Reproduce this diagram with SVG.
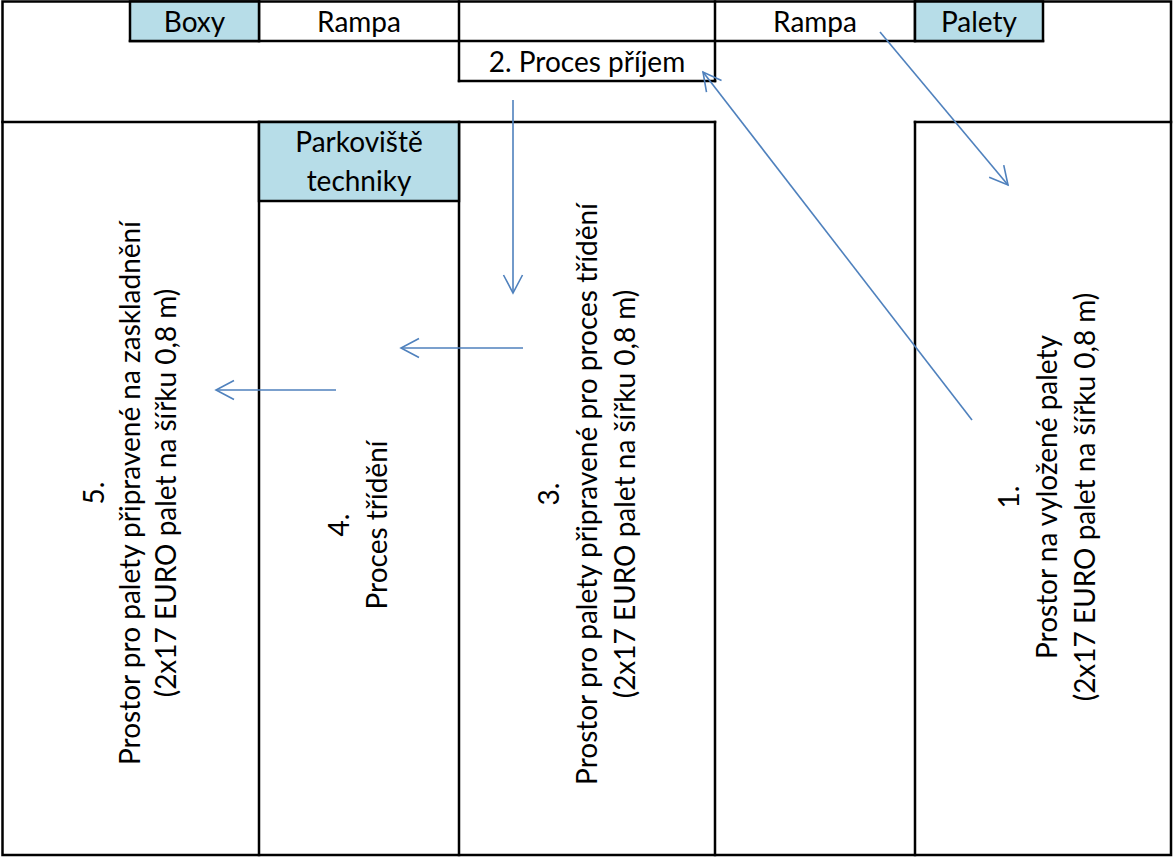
<svg xmlns="http://www.w3.org/2000/svg" width="1173" height="858" viewBox="0 0 1173 858">
<defs>
<style>
.ln{stroke:#000;stroke-width:2.5;fill:none;stroke-linecap:square}
.cell{fill:#b7dde8;stroke:#000;stroke-width:2.5}
.t{font-family:Lato,"Liberation Sans",sans-serif;font-size:28px;fill:#000;text-anchor:middle}
.ar{stroke:#4f81bd;stroke-width:1.6;fill:none;marker-end:url(#ah)}
</style>
<marker id="ah" markerUnits="userSpaceOnUse" viewBox="-20 -11 22 22" markerWidth="22" markerHeight="22" refX="0" refY="0" orient="auto" overflow="visible">
<path d="M-18,-9.5 L0,0 L-18,9.5" fill="none" stroke="#4f81bd" stroke-width="1.6"/>
</marker>
</defs>
<rect x="0" y="0" width="1173" height="858" fill="#fff"/>
<g id="frame">
<rect class="ln" x="2.5" y="1.5" width="1168.5" height="853.5"/>
<line class="ln" x1="130" y1="41" x2="1043" y2="41"/>
<line class="ln" x1="459" y1="81" x2="715" y2="81"/>
<line class="ln" x1="2.5" y1="122" x2="715" y2="122"/>
<line class="ln" x1="915" y1="122" x2="1171" y2="122"/>
<line class="ln" x1="259" y1="1.5" x2="259" y2="41"/>
<line class="ln" x1="459" y1="1.5" x2="459" y2="81"/>
<line class="ln" x1="715" y1="1.5" x2="715" y2="81"/>
<line class="ln" x1="915" y1="1.5" x2="915" y2="41"/>
<line class="ln" x1="259" y1="122" x2="259" y2="855"/>
<line class="ln" x1="459" y1="122" x2="459" y2="855"/>
<line class="ln" x1="715" y1="122" x2="715" y2="855"/>
<line class="ln" x1="915" y1="122" x2="915" y2="855"/>
</g>
<g id="boxy">
<rect class="cell" x="130" y="1.5" width="129" height="39.5"/>
<text class="t" x="194.5" y="32">Boxy</text>
</g>
<g id="rampa-left">
<text class="t" x="359" y="32">Rampa</text>
</g>
<g id="rampa-right">
<text class="t" x="815" y="32">Rampa</text>
</g>
<g id="palety">
<rect class="cell" x="915" y="1.5" width="128" height="39.5"/>
<text class="t" x="979" y="32">Palety</text>
</g>
<g id="prijem">
<text class="t" x="587" y="72">2. Proces příjem</text>
</g>
<g id="parkoviste">
<rect class="cell" x="259" y="122" width="200" height="79"/>
<text class="t" x="359" y="152">Parkoviště</text>
<text class="t" x="359" y="191">techniky</text>
</g>
<g id="area5">
<text class="t" transform="translate(0,493) rotate(-90)"><tspan x="0" y="104">5.</tspan><tspan x="0" y="140">Prostor pro palety připravené na zaskladnění</tspan><tspan x="0" y="176">(2x17 EURO palet na šířku 0,8 m)</tspan></text>
</g>
<g id="area4">
<text class="t" transform="translate(0,525) rotate(-90)"><tspan x="0" y="349">4.</tspan><tspan x="0" y="387">Proces třídění</tspan></text>
</g>
<g id="area3">
<text class="t" transform="translate(0,494) rotate(-90)"><tspan x="0" y="559">3.</tspan><tspan x="0" y="597">Prostor pro palety připravené pro proces třídění</tspan><tspan x="0" y="635">(2x17 EURO palet na šířku 0,8 m)</tspan></text>
</g>
<g id="area1">
<text class="t" transform="translate(0,497) rotate(-90)"><tspan x="0" y="1019">1.</tspan><tspan x="0" y="1057">Prostor na vyložené palety</tspan><tspan x="0" y="1095">(2x17 EURO palet na šířku 0,8 m)</tspan></text>
</g>
<g id="connectors">
<line class="ar" x1="513" y1="100" x2="513" y2="293"/>
<line class="ar" x1="523" y1="348" x2="401" y2="348"/>
<line class="ar" x1="336" y1="390" x2="216" y2="390"/>
<line class="ar" x1="972" y1="420" x2="703" y2="72"/>
<line class="ar" x1="880" y1="32" x2="1008" y2="185"/>
</g>
</svg>
